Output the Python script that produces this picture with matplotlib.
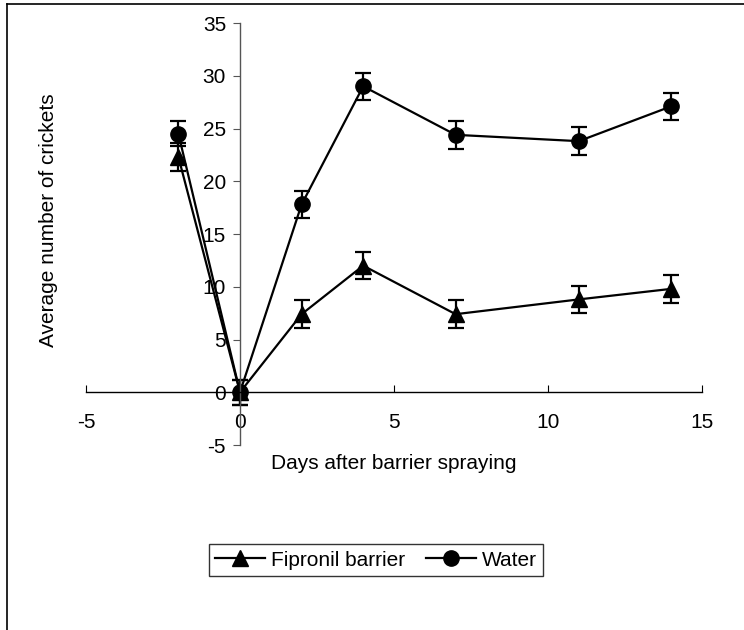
import matplotlib
matplotlib.use('Agg')
import matplotlib.pyplot as plt
from matplotlib.lines import Line2D

plt.rcParams['font.family'] = ['Liberation Sans', 'DejaVu Sans']
plt.rcParams['axes.unicode_minus'] = False

# days after spraying
days = [-2, 0, 2, 4, 7, 11, 14]
# average crickets caught and error bars
fipronil = [22.3, 0.0, 7.4, 12.0, 7.4, 8.8, 9.8]
fipronil_err = [1.3, 1.2, 1.3, 1.3, 1.3, 1.3, 1.3]
water = [24.5, 0.0, 17.8, 29.0, 24.4, 23.8, 27.1]
water_err = [1.2, 1.2, 1.3, 1.3, 1.3, 1.3, 1.3]

xticks = [-5, 0, 5, 10, 15]
yticks = [-5, 0, 5, 10, 15, 20, 25, 30, 35]

fs = 15

fig = plt.figure(figsize=(7.44, 6.3), dpi=100)
ax = fig.add_axes([86/744, 1-445/630, 616/744, 422/630])

style = dict(color='black', lw=1.6, ms=11, capsize=6, capthick=1.6, elinewidth=1.6)
ax.errorbar(days, fipronil, yerr=fipronil_err, marker='^', **style)
ax.errorbar(days, water, yerr=water_err, marker='o', **style)

ax.set_xlim(-5, 15)
ax.set_ylim(-5, 35)
ax.set_xticks(xticks)
ax.set_yticks(yticks)

ax.spines['top'].set_visible(False)
ax.spines['right'].set_visible(False)
ax.spines['left'].set_position(('data', 0))
ax.spines['bottom'].set_position(('data', 0))
ax.spines['left'].set_linewidth(1.0)
ax.spines['bottom'].set_linewidth(1.0)
ax.spines['left'].set_color('#555555')

ax.tick_params(axis='x', direction='in', length=5, pad=15, labelsize=fs)
ax.tick_params(axis='y', direction='out', length=5, pad=5, labelsize=fs, color='#555555')

ax.set_xlabel('Days after barrier spraying', fontsize=fs)
ax.xaxis.set_label_coords(0.5, -0.022)
ax.set_ylabel('Average number of crickets', fontsize=fs)
ax.yaxis.set_label_coords(-0.045, 0.533)

handles = [Line2D([], [], color='black', lw=1.6, marker='^', ms=11),
           Line2D([], [], color='black', lw=1.6, marker='o', ms=11)]
leg = fig.legend(handles, ['Fipronil barrier', 'Water'], loc='center',
                 bbox_to_anchor=(376/744, 1-560/630), ncol=2,
                 fontsize=fs, frameon=True, fancybox=False, handlelength=2.4,
                 columnspacing=1.0, handletextpad=0.3, borderpad=0.3,
                 borderaxespad=0)
leg.get_frame().set_edgecolor('black')
leg.get_frame().set_linewidth(1.0)

# outer chart border (top and left visible)
fig.add_artist(Line2D([7/744, 1], [1-4/630, 1-4/630], color='black', lw=1.2))
fig.add_artist(Line2D([7/744, 7/744], [0, 1-4/630], color='black', lw=1.2))

fig.savefig('out.png', dpi=100)
